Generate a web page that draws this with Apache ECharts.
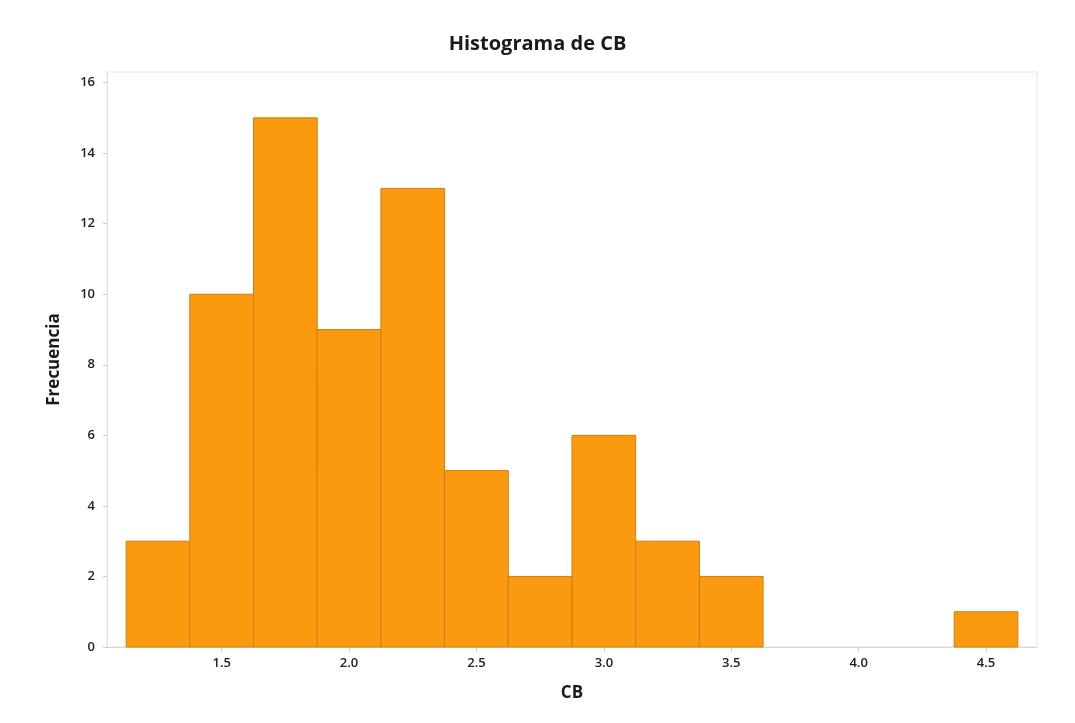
<!DOCTYPE html>
<html>
<head>
<meta charset="utf-8">
<script src="https://cdn.jsdelivr.net/npm/echarts@6/dist/echarts.min.js"></script>
<style>
  html, body { margin: 0; padding: 0; background: #fff; }
  #histCB { width: 1075px; height: 723px; }
</style>
</head>
<body>
<div id="histCB"></div>
<script>
// clases del histograma (centro de clase) y frecuencias
var binCenters = [1.25, 1.5, 1.75, 2.0, 2.25, 2.5, 2.75, 3.0, 3.25, 3.5, 3.75, 4.0, 4.25, 4.5];
var counts = [3, 10, 15, 9, 13, 5, 2, 6, 3, 2, 0, 0, 0, 1];
var binWidth = 0.25;
var xTicks = [1.5, 2.0, 2.5, 3.0, 3.5, 4.0, 4.5];

var histData = [];
for (var i = 0; i < binCenters.length; i++) {
    histData.push([binCenters[i] - binWidth / 2, binCenters[i] + binWidth / 2, counts[i]]);
}

var fontFam = '"Open Sans", "Noto Sans", sans-serif';
var chart = echarts.init(document.getElementById('histCB'));
var option = {
    animation: false,
    title: {
        text: 'Histograma de CB',
        left: 'center',
        top: 29,
        textStyle: { fontFamily: fontFam, fontSize: 20, fontWeight: 'bold', color: '#1a1a1a' }
    },
    grid: {
        left: 107,
        right: 38,
        top: 72,
        bottom: 76,
        show: true,
        borderColor: '#e4e4e4',
        borderWidth: 1
    },
    xAxis: {
        type: 'value',
        min: 1.05,
        max: 4.7,
        name: 'CB',
        nameLocation: 'middle',
        nameGap: 38,
        nameTextStyle: { fontFamily: fontFam, fontSize: 17, fontWeight: 'bold', color: '#1a1a1a' },
        splitLine: { show: false },
        axisLine: { show: true, lineStyle: { color: '#d6d6d6' } },
        axisTick: { show: true, customValues: xTicks, length: 4, lineStyle: { color: '#cccccc' } },
        axisLabel: {
            customValues: xTicks,
            formatter: function (v) { return v.toFixed(1); },
            fontFamily: fontFam, fontSize: 13, fontWeight: 600, color: '#222', margin: 10
        }
    },
    yAxis: {
        type: 'value',
        min: 0,
        max: 16.3,
        interval: 2,
        name: 'Frecuencia',
        nameLocation: 'middle',
        nameGap: 44,
        nameTextStyle: { fontFamily: fontFam, fontSize: 17, fontWeight: 'bold', color: '#1a1a1a' },
        splitLine: { show: false },
        axisLine: { show: true, lineStyle: { color: '#e4e4e4' } },
        axisTick: { show: true, length: 4, lineStyle: { color: '#cccccc' } },
        axisLabel: {
            showMaxLabel: false,
            fontFamily: fontFam, fontSize: 13, fontWeight: 600, color: '#222', margin: 12
        }
    },
    series: [{
        type: 'custom',
        data: histData,
        encode: { x: [0, 1], y: 2 },
        renderItem: function (params, api) {
            if (api.value(2) <= 0) return null;
            var p0 = api.coord([api.value(0), api.value(2)]);
            var p1 = api.coord([api.value(1), 0]);
            return {
                type: 'rect',
                shape: { x: p0[0], y: p0[1], width: p1[0] - p0[0], height: p1[1] - p0[1] },
                style: { fill: '#FB9A0E', stroke: '#D07E12', lineWidth: 1 }
            };
        }
    }]
};
chart.setOption(option);
window.addEventListener('resize', chart.resize);
</script>
</body>
</html>
